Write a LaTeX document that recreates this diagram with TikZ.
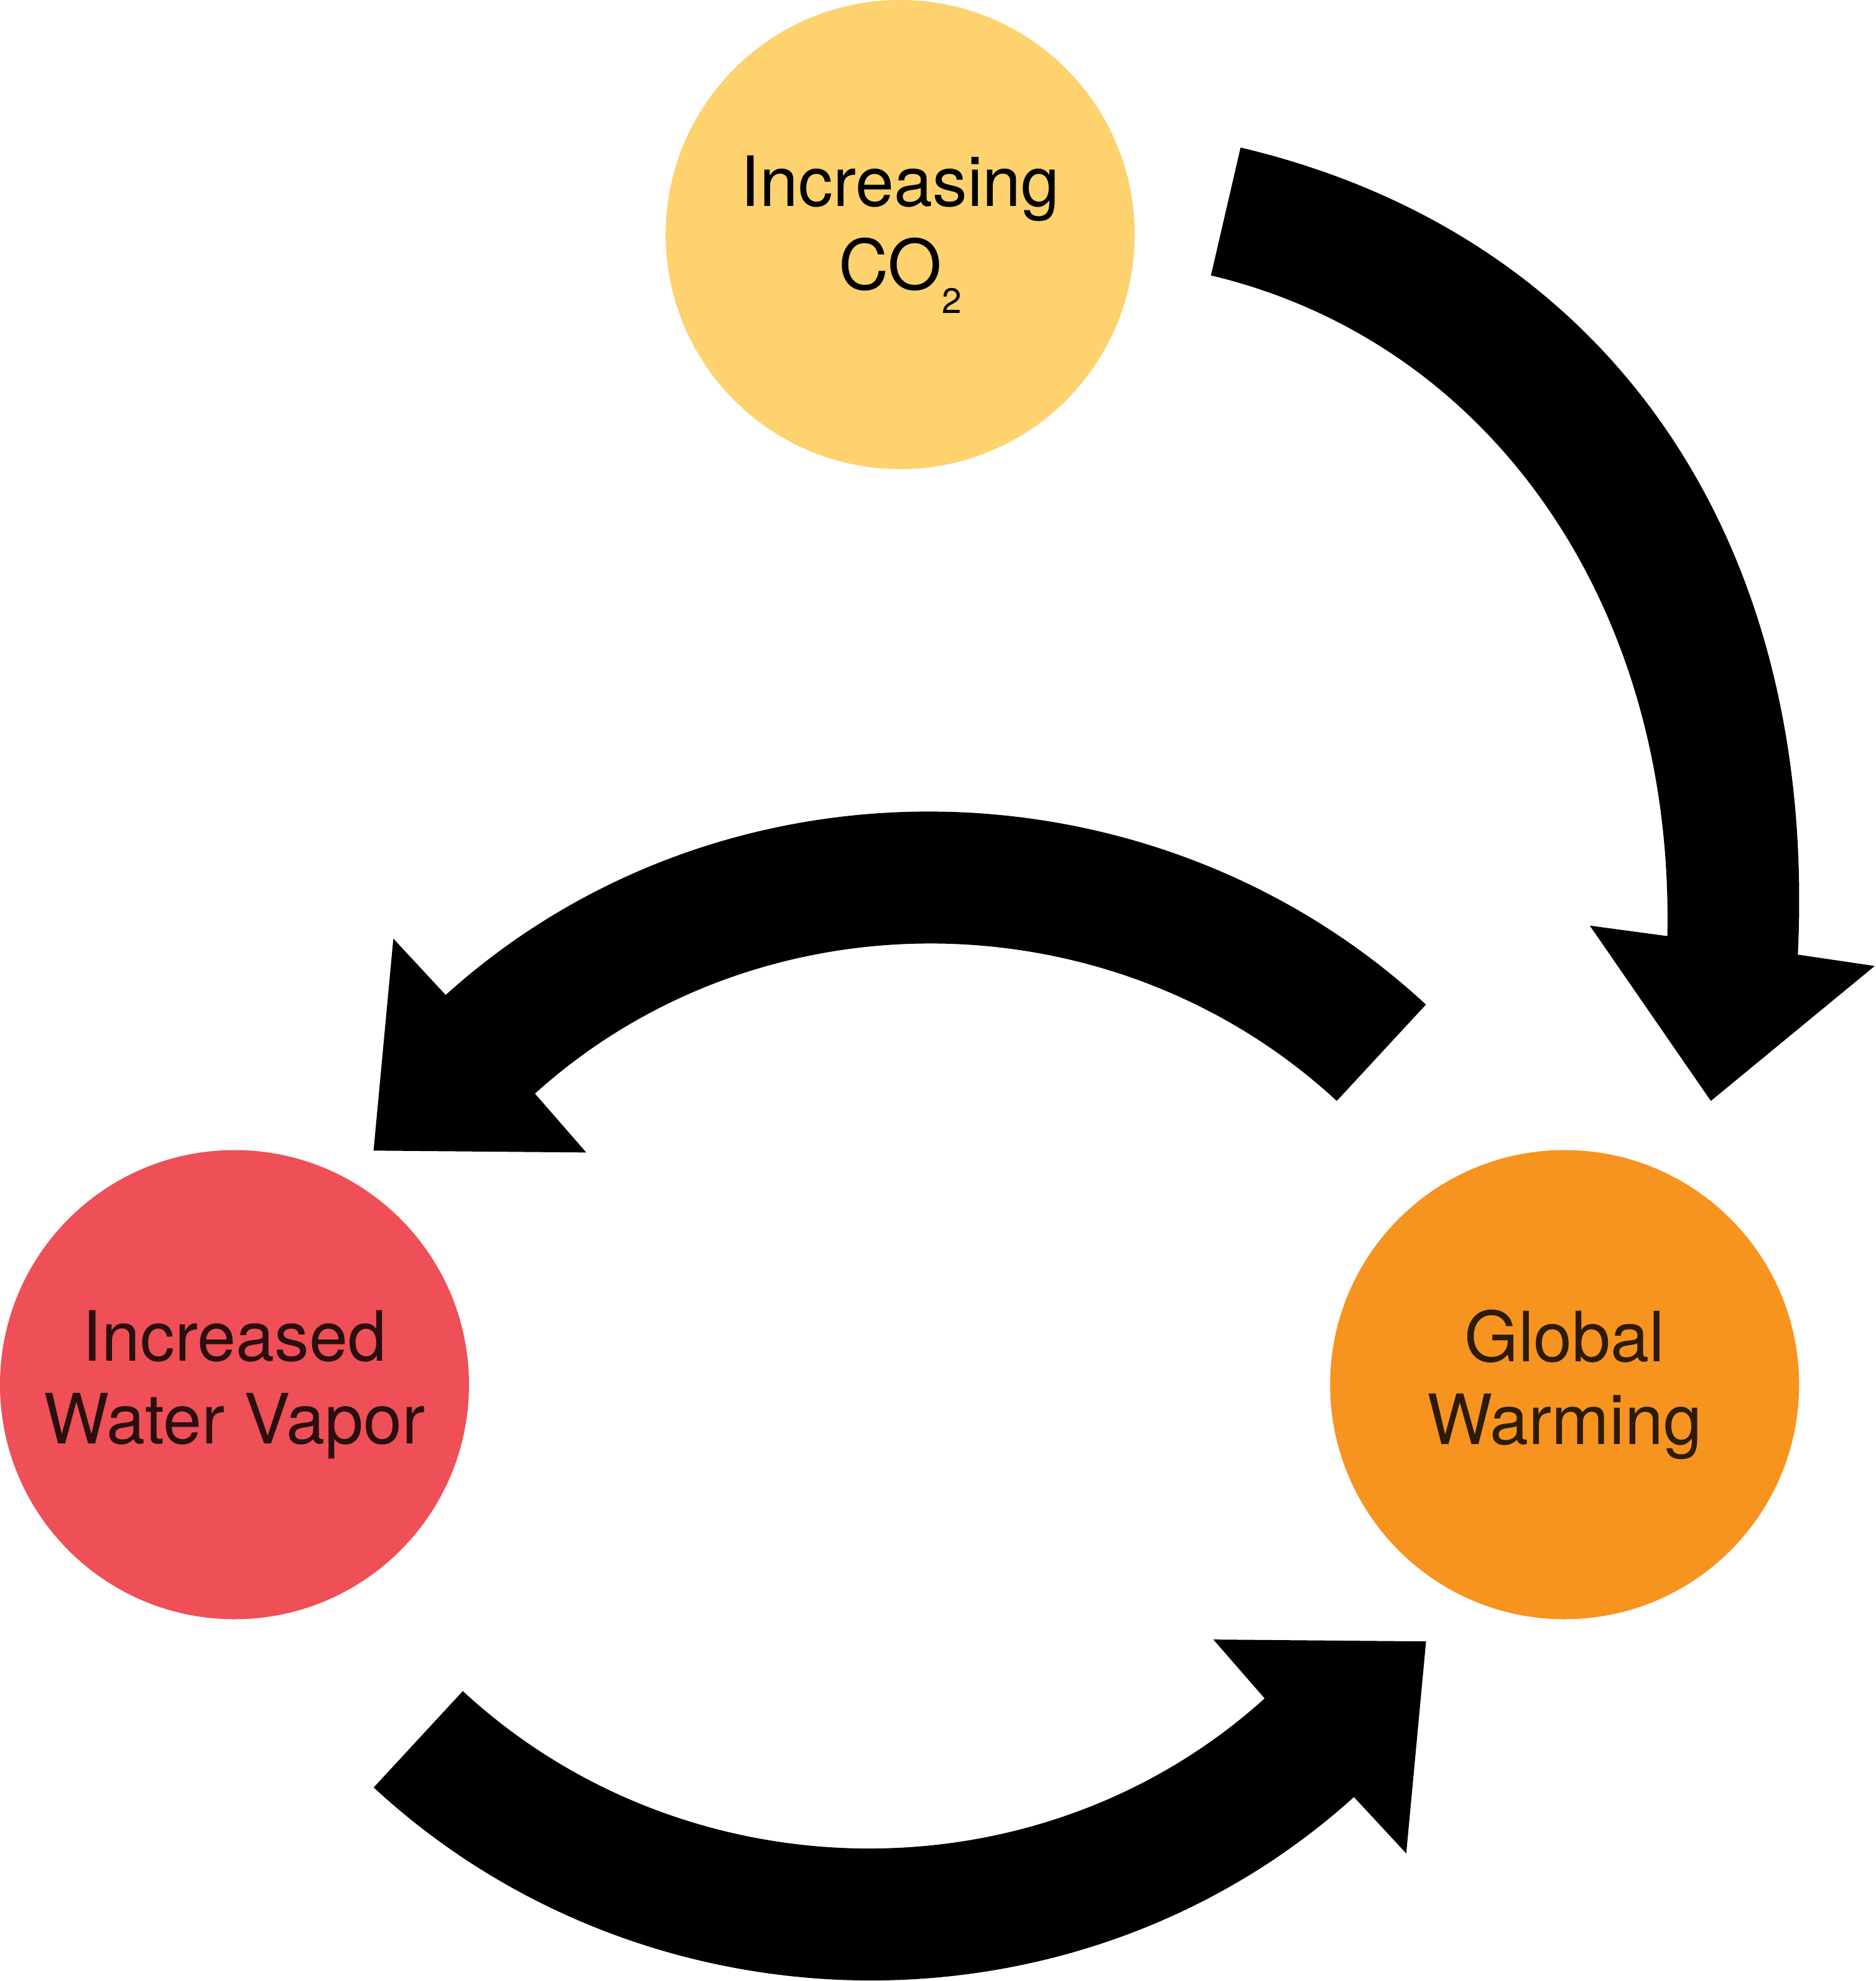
\documentclass[tikz,border=0pt]{standalone}
\usepackage{fontspec}
\setmainfont{TeX Gyre Heros}
\definecolor{co2yellow}{HTML}{FDD26F}
\definecolor{vaporred}{HTML}{EF4F56}
\definecolor{warmorange}{HTML}{F7931F}
\definecolor{vaportext}{HTML}{2A0E10}
\definecolor{warmtext}{HTML}{2C1B06}

\begin{document}
\begin{tikzpicture}[x=1pt, y=-1pt,
    factor/.style ={circle, draw=none, minimum size=372pt, inner sep=0pt,
    align=center, font=\fontsize{55}{66}\selectfont},
    bigarrow/.style={fill=black}
    ]
\useasboundingbox (0,0) rectangle (1488,1570.9);

\node[factor, fill=co2yellow] (C) at (714,186) {Increasing\\CO\raisebox{-18.6pt}{\fontsize{28}{28}\selectfont 2}};
\node[factor, fill=vaporred, text=vaportext] (W) at (186,1098) {Increased\\Water Vapor};
\node[factor, fill=warmorange, text=warmtext] (G) at (1241,1098) {Global\\Warming};

% CO2 -> warming
\fill[bigarrow] (984,117) .. controls (1276,186) and (1442,427) .. (1426,757)
  -- (1487,766) -- (1357,873) -- (1261,734) -- (1322.5,742.3)
  .. controls (1328,482) and (1184,271.5) .. (960.5,218.4) -- cycle;
% warming -> water vapor
\fill[bigarrow] (1131,796.6) .. controls (914.5,596.3) and (572.4,591.4) .. (353.5,789)
  -- (312,744.3) -- (296.3,912.4) -- (465,913.9) -- (424.3,867.2)
  .. controls (603.1,705.7) and (883.4,709.4) .. (1060.3,873) -- cycle;
% water vapor -> warming
\fill[bigarrow] (296.4,1417.4) .. controls (512.9,1617.7) and (855,1622.6) .. (1073.9,1425)
  -- (1115.4,1469.7) -- (1131.1,1301.6) -- (962.4,1300.1) -- (1003.1,1346.8)
  .. controls (824.3,1508.3) and (544,1504.6) .. (367.1,1341) -- cycle;
\end{tikzpicture}
\end{document}
